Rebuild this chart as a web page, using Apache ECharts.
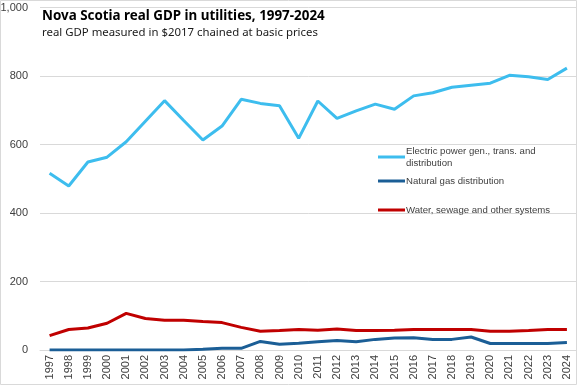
<!DOCTYPE html>
<html><head><meta charset="utf-8">
<script src="https://cdn.jsdelivr.net/npm/echarts@6/dist/echarts.min.js"></script>
<style>html,body{margin:0;padding:0;background:#fff}#c{width:577px;height:385px}</style>
</head><body><div id="c"></div>
<script>
const years = ['1997','1998','1999','2000','2001','2002','2003','2004','2005','2006','2007','2008','2009','2010','2011','2012','2013','2014','2015','2016','2017','2018','2019','2020','2021','2022','2023','2024'];
const electric = [516,479,549,563,608,668,728,670,613,654,732,720,713,618,727,676,698,718,703,742,751,767,773,779,802,798,790,823];
const naturalGas = [0,0,0,0,0,0,0,0,2,5,5,25,17,20,24,28,24,31,35,36,31,31,38,19,19,19,19,22];
const water = [42,60,64,78,107,92,87,87,83,80,66,55,57,60,58,61,57,57,58,60,60,60,60,55,55,57,60,60];
const yTicks = [0,200,400,600,800,1000];
const names = ['Electric power gen., trans. and distribution','Natural gas distribution','Water, sewage and other systems'];
const colors = ['#3DBDEE','#1B5E96','#C00000'];

const chart = echarts.init(document.getElementById('c'), null, {renderer:'canvas'});
const font = 'Liberation Sans, Arial, sans-serif';
function legendFor(i, top){
  return {
    show:true, orient:'vertical', left:373, top:top, itemWidth:27, itemHeight:3, itemGap:0,
    icon:'rect', data:[names[i]],
    formatter: n => n === names[0] ? 'Electric power gen., trans. and\ndistribution' : n,
    textStyle:{fontFamily:font, fontSize:9.6, color:'#404040', padding:[0,0,0,-4], lineHeight:12},
  };
}
chart.setOption({
  animation:false,
  title:{
    text:'Nova Scotia real GDP in utilities, 1997-2024',
    subtext:'real GDP measured in $2017 chained at basic prices',
    left:37, top:5, itemGap:4,
    textStyle:{fontFamily:'Noto Sans, sans-serif', fontSize:13.4, fontWeight:'bold', color:'#000'},
    subtextStyle:{fontFamily:'Noto Sans, sans-serif', fontSize:11.4, color:'#1a1a1a'}
  },
  legend:[legendFor(0,140), legendFor(1,170), legendFor(2,199)],
  grid:{left:40, right:0.5, top:7.5, bottom:35, containLabel:false, outerBoundsMode:'none'},
  xAxis:{
    type:'category', data:years, boundaryGap:true,
    axisLine:{show:true, lineStyle:{color:'#d9d9d9'}},
    axisTick:{show:false},
    axisLabel:{rotate:90, interval:0, fontFamily:font, fontSize:11, color:'#404040', margin:5}
  },
  yAxis:{
    type:'value', min:0, max:1000, interval:200,
    axisLine:{show:false}, axisTick:{show:false},
    splitLine:{lineStyle:{color:'#d9d9d9', width:1}},
    axisLabel:{fontFamily:font, fontSize:11, color:'#404040', margin:12,
      formatter: v => yTicks.includes(v) ? v.toLocaleString('en-US') : ''}
  },
  series:[
    {name:names[0], type:'line', data:electric, symbol:'none', lineStyle:{width:3, color:colors[0]}, itemStyle:{color:colors[0]}},
    {name:names[1], type:'line', data:naturalGas, symbol:'none', lineStyle:{width:3, color:colors[1]}, itemStyle:{color:colors[1]}},
    {name:names[2], type:'line', data:water, symbol:'none', lineStyle:{width:3, color:colors[2]}, itemStyle:{color:colors[2]}}
  ],
  graphic:[{type:'rect', shape:{x:0.5,y:0.5,width:576,height:384}, style:{fill:'none', stroke:'#d9d9d9', lineWidth:1}, silent:true, z:-1}]
});
</script></body></html>
